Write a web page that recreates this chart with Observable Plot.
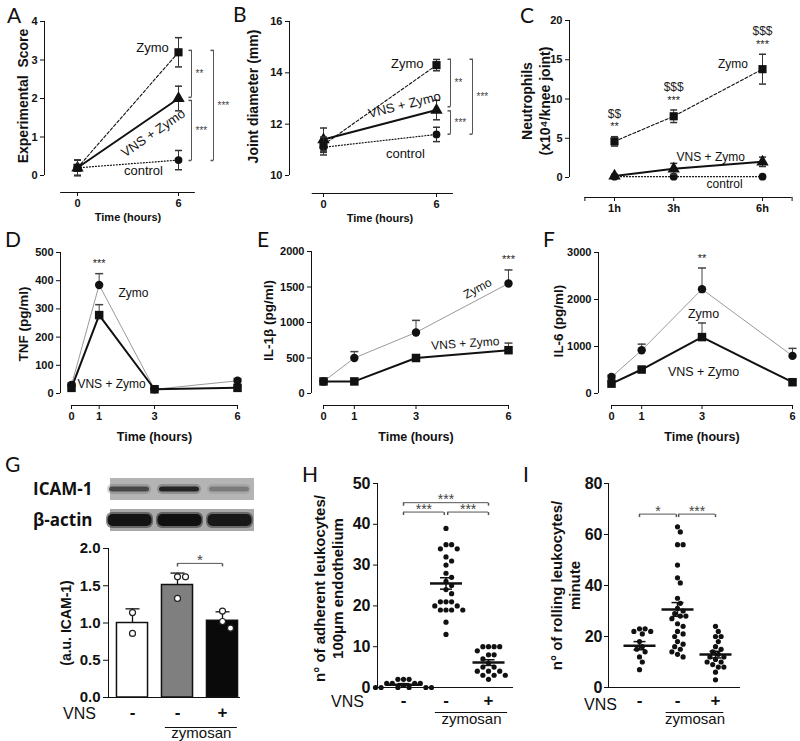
<!DOCTYPE html>
<html><head><meta charset="utf-8">
<script src="https://cdn.jsdelivr.net/npm/d3@7"></script>
<script src="https://cdn.jsdelivr.net/npm/@observablehq/plot@0.6"></script>
<style>
html,body{margin:0;padding:0;background:#fff;overflow:hidden}
#fig{position:relative;width:800px;height:741px;overflow:hidden;background:#fff}
#fig svg{position:absolute;left:0;top:0}
.lt{position:absolute;font-family:Lato,'Open Sans',sans-serif;font-size:21px;line-height:21px;color:#111}
</style></head><body><div id="fig"></div>
<script>
// ======================= DATA =======================
// A: experimental score
const abTime = [0, 6];
const aZymo = [0.2, 3.2];   const aZymoSem = [0.2, 0.38];
const aVns  = [0.2, 2.0];   const aVnsSem  = [0.2, 0.32];
const aCtrl = [0.2, 0.4];   const aCtrlSem = [0.2, 0.25];
const aTicks = [0, 1, 2, 3, 4];
const aSig = [["**", 3.25, 2.03], ["***", 1.95, 0.39], ["***", 3.25, 0.39]];
// B: joint diameter (mm)
const bZymo = [11.2, 14.3];  const bZymoSem = [0.3, 0.22];
const bVns  = [11.4, 12.55]; const bVnsSem  = [0.45, 0.38];
const bCtrl = [11.1, 11.6];  const bCtrlSem = [0.3, 0.28];
const bTicks = [10, 12, 14, 16];
const bSig = [["**", 14.53, 12.68], ["***", 12.52, 11.61], ["***", 14.53, 11.61]];
// C: neutrophils (x10^4 / knee joint)
const cTime = [1, 3, 6];
const cZymo = [4.6, 7.8, 13.8]; const cZymoSem = [0.6, 0.8, 1.9];
const cVns  = [0.2, 1.1, 2.0];  const cVnsSem  = [0.2, 0.7, 0.6];
const cCtrl = [0.1, 0.1, 0.1];  const cCtrlSem = [0.1, 0.1, 0.1];
const cStars = ["**", "***", "***"];
const cDollars = ["$$", "$$$", "$$$"];
const cTicks = [0, 5, 10, 15, 20];
const cTimeTicks = [0, 1, 3, 6, 7];
// D, E, F: cytokines
const defTime = [0, 1, 3, 6];
const dZymo = [30, 385, 15, 45];     const dZymoSem = [8, 40, 4, 8];
const dVns  = [20, 278, 15, 20];     const dVnsSem  = [6, 37, 4, 5];
const dStars = ["", "***", "", ""];
const dTicks = [0, 100, 200, 300, 400, 500];
const eZymo = [170, 500, 860, 1550]; const eZymoSem = [20, 90, 170, 190];
const eVns  = [170, 170, 500, 610];  const eVnsSem  = [15, 15, 40, 100];
const eStars = ["", "", "", "***"];
const eTicks = [0, 500, 1000, 1500, 2000];
const fZymo = [350, 920, 2220, 800]; const fZymoSem = [40, 130, 450, 160];
const fVns  = [210, 510, 1200, 240]; const fVnsSem  = [30, 40, 300, 40];
const fStars = ["", "", "**", ""];
const fTicks = [0, 1000, 2000, 3000];
// G: ICAM-1 western blot
const gGroups = ["control", "zymosan", "VNS + zymosan"];
const gVnsSign = ["-", "-", "+"];
const gMean = [1.0, 1.51, 1.03];
const gSem = [0.19, 0.16, 0.12];
const gPoints = [[0.86, 1.14], [1.33, 1.62, 1.62], [0.93, 1.02, 1.16]];
const gTicks = [0, 0.5, 1, 1.5, 2];
const gBlotRows = ["ICAM-1", "β-actin"];
const gIcam = [0.62, 0.88, 0.3];
const gActin = [0.93, 0.96, 0.88];
const gSig = [["*", 1, 2, 1.8]];
// H: adherent leukocytes
const hGroups = ["control", "zymosan", "VNS + zymosan"];
const hCtrl = [2, 2, 2, 1, 1, 1, 1, 0.5, 0, 0, 0, 0, 0, 0];
const hZymo = [39, 35, 35, 34, 34, 32, 31, 30, 28, 27, 26, 25, 24, 23, 21, 21, 21, 20, 20, 19, 19, 19, 19, 16, 13];
const hVnsZ = [10, 10, 10, 10, 9, 8, 8, 7, 6, 5, 5, 4, 4, 4, 3, 3, 3, 2];
const hMean = [0.7, 25.5, 6.1];
const hSem = [0.25, 1.4, 0.7];
const hTicks = [0, 10, 20, 30, 40, 50];
const hSig = [["***", 0, 2, 45.3], ["***", 0, 0.96, 43], ["***", 1.04, 2, 43]];
// I: rolling leukocytes
const iCtrl = [23, 23, 22, 22, 21, 18, 16, 15, 14, 12, 10, 7];
const iZymo = [63, 61, 56, 56, 48, 43, 41, 35, 33, 31, 30, 29, 28, 28, 27, 25, 24, 22, 21, 20, 18, 17, 16, 15, 14, 13, 12];
const iVnsZ = [24, 22, 20, 20, 18, 16, 15, 14, 13, 12, 12, 11, 10, 10, 9, 8, 8, 6, 3];
const iMean = [16.4, 30.6, 12.9];
const iSem = [1.6, 2.7, 1.3];
const iTicks = [0, 20, 40, 60, 80];
const iSig = [["*", 0, 0.97, 68], ["***", 1.03, 2, 68]];

// ======================= HELPERS =======================
const FONT = "'Liberation Sans', Arial, Helvetica, sans-serif";
const fig = document.getElementById("fig");
const lin = s => d3.scaleLinear(s.domain, s.range);
const inv = (s, px) => lin(s).invert(px);
const sym = fn => ({draw(ctx, size) { const w = Math.sqrt(size / Math.PI); fn(ctx, w); }});
const hCap = sym((c, w) => { c.moveTo(-w, 0); c.lineTo(w, 0); });
const leftTick = sym((c, w) => { c.moveTo(-w, 0); c.lineTo(0, 0); });
const downTick = sym((c, w) => { c.moveTo(0, 0); c.lineTo(0, w); });
const rowsOf = (t, v, e, lab) => t.map((x, k) => ({t: x, v: v[k], e: e[k], lab: lab ? lab[k] : ""}));

function render(cfg, marks, extra = {}) {
  const [l, t, r, b] = cfg.frame;
  const svg = Plot.plot({
    width: 800, height: 741,
    marginLeft: l, marginTop: t, marginRight: 800 - r, marginBottom: 741 - b,
    x: cfg.x, y: cfg.y, ...extra,
    style: {background: "transparent", fontFamily: cfg.font || FONT, fontSize: (cfg.fs || 11) + "px",
            fontWeight: "bold", color: "#111", overflow: "visible"},
    marks
  });
  fig.appendChild(svg);
}
function axisLines(cfg) {
  return [
    Plot.ruleX([inv(cfg.x, cfg.frame[0])], {y1: cfg.y.domain[0], y2: cfg.y.domain[cfg.y.domain.length - 1], stroke: "#111"}),
    Plot.ruleY([inv(cfg.y, cfg.frame[3])], {x1: cfg.xLine[0], x2: cfg.xLine[1], stroke: "#111"})
  ];
}
const ST = {
  zymo: {symbol: "square", r: 4.6, dash: "3,2", width: 1.1},
  vns: {symbol: "triangle", r: 4.6, dash: undefined, width: 2},
  ctrl: {symbol: "circle", r: 3.9, dash: "1,2", width: 1.2}
};
function topLines(rows, st) {
  return Plot.line(rows, {x: "t", y: "v", stroke: "#111", strokeWidth: st.width, strokeDasharray: st.dash});
}
function topPoints(rows, st) {
  return [
    Plot.ruleX(rows, {x: "t", y1: d => d.v - d.e, y2: d => d.v + d.e, stroke: "#333"}),
    Plot.dot(rows, {x: "t", y: d => d.v + d.e, symbol: hCap, r: 3.5, stroke: "#333", fill: "none"}),
    Plot.dot(rows, {x: "t", y: d => d.v - d.e, symbol: hCap, r: 3.5, stroke: "#333", fill: "none"}),
    Plot.dot(rows, {x: "t", y: "v", symbol: st.symbol, r: st.r, fill: "#111", stroke: "none"})
  ];
}
function vBrackets(cfg, sig, offs, at) {
  const xs = lin(cfg.x);
  const list = sig.map(([label, y1, y2], k) => ({label, y1, y2, x: xs.invert(xs(at) + offs[k])}));
  return [
    Plot.ruleX(list, {x: "x", y1: "y1", y2: "y2", stroke: "#555"}),
    Plot.dot(list, {x: "x", y: "y1", symbol: leftTick, r: 3, stroke: "#555", fill: "none"}),
    Plot.dot(list, {x: "x", y: "y2", symbol: leftTick, r: 3, stroke: "#555", fill: "none"}),
    Plot.text(list, {x: "x", y: d => (d.y1 + d.y2) / 2, text: "label", dx: 4, textAnchor: "start",
                     fill: "#444", fontSize: 10, fontWeight: "normal"})
  ];
}
function hBrackets(sig, fs) {
  const list = sig.map(([label, x1, x2, y]) => ({label, x1, x2, y}));
  return [
    Plot.ruleY(list, {x1: "x1", x2: "x2", y: "y", stroke: "#555"}),
    Plot.dot(list, {x: "x1", y: "y", symbol: downTick, r: 3, stroke: "#555", fill: "none"}),
    Plot.dot(list, {x: "x2", y: "y", symbol: downTick, r: 3, stroke: "#555", fill: "none"}),
    Plot.text(list, {x: d => (d.x1 + d.x2) / 2, y: "y", text: "label", dy: -3, fill: "#444", fontSize: fs, fontWeight: "normal"})
  ];
}
function midSeries(zRows, vRows) {
  const errs = rows => [
    Plot.ruleX(rows, {x: "t", y1: "v", y2: d => d.v + d.e, stroke: "#444"}),
    Plot.dot(rows, {x: "t", y: d => d.v + d.e, symbol: hCap, r: 4, stroke: "#444", fill: "none"})
  ];
  return [
    Plot.line(zRows, {x: "t", y: "v", stroke: "#9a9a9a", strokeWidth: 1}),
    Plot.line(vRows, {x: "t", y: "v", stroke: "#111", strokeWidth: 2}),
    ...errs(zRows), ...errs(vRows),
    Plot.dot(zRows, {x: "t", y: "v", symbol: "circle", r: 4.2, fill: "#111"}),
    Plot.dot(vRows, {x: "t", y: "v", symbol: "square", r: 4.8, fill: "#111"}),
    Plot.text(zRows.filter(d => d.lab), {x: "t", y: d => d.v + d.e, text: "lab", dy: -10, fill: "#222", fontSize: 11, fontWeight: "normal"})
  ];
}
function labels(list, fs) {
  return Plot.text(list, {x: "x", y: "y", text: "t", rotate: d => d.r || 0, fontSize: fs, fontWeight: "normal", fill: "#111"});
}
function yTitle(text, dx, dy, fs, lh) {
  return Plot.text([text], {text: d => d, frameAnchor: "left", textAnchor: "middle", dx, dy, rotate: -90,
                            fontSize: fs, fontWeight: "bold", lineHeight: lh || 1.2});
}
function timeTitle(x, dy, fs) {
  return Plot.text(["Time (hours)"], {text: d => d, x, frameAnchor: "bottom", textAnchor: "middle", dy, fontSize: fs, fontWeight: "bold"});
}
function swarm(groups, cfg, D) {
  const xs = lin(cfg.x), ys = lin(cfg.y), out = [];
  groups.forEach((vals, i) => {
    const placed = [];
    [...vals].sort((a, b) => b - a).forEach(v => {
      const py = ys(v);
      let off = 0;
      for (let n = 0; n < 80; n++) {
        const c = n === 0 ? 0 : (n % 2 ? 1 : -1) * Math.ceil(n / 2) * D / 2;
        if (placed.every(p => (p.x - c) ** 2 + (p.y - py) ** 2 >= D * D - 0.01)) { off = c; break; }
      }
      placed.push({x: off, y: py});
      out.push({g: i, v, x: xs.invert(xs(i) + off)});
    });
  });
  return out;
}
function groupFooter(signs, vnsDx, lineX, dys, fs) {
  return [
    Plot.text(signs, {x: (d, i) => i, text: d => d, frameAnchor: "bottom", textAnchor: "middle", dy: dys[0], fontSize: fs + 2, fontWeight: "bold"}),
    Plot.text(["VNS"], {text: d => d, frameAnchor: "bottom-left", textAnchor: "middle", dx: vnsDx, dy: dys[3] || dys[0] + 1, fontSize: fs + 1, fontWeight: "normal"}),
    Plot.ruleY([0], {x1: lineX[0], x2: lineX[1], dy: dys[1], stroke: "#111"}),
    Plot.text(["zymosan"], {text: d => d, x: (lineX[0] + lineX[1]) / 2, frameAnchor: "bottom", textAnchor: "middle", dy: dys[2], fontSize: fs, fontWeight: "normal"})
  ];
}

// ======================= PANEL A =======================
const A = {frame: [44, 21, 230, 192], fs: 11, xLine: [-1, 7],
  x: {domain: [0, 6], range: [77, 178], ticks: abTime, tickFormat: "d", tickSize: 4, tickPadding: 3, label: null, axis: "bottom"},
  y: {domain: [0, 4], range: [175, 21], ticks: aTicks, tickFormat: "d", tickSize: 4, tickPadding: 3, label: null, axis: "left"}};
{
  const z = rowsOf(abTime, aZymo, aZymoSem), v = rowsOf(abTime, aVns, aVnsSem), c = rowsOf(abTime, aCtrl, aCtrlSem);
  render(A, [
    ...axisLines(A),
    topLines(c, ST.ctrl), topLines(z, ST.zymo), topLines(v, ST.vns),
    ...topPoints(c, ST.ctrl), ...topPoints(v, ST.vns), ...topPoints(z, ST.zymo),
    ...vBrackets(A, aSig, [13, 13, 35], 6),
    labels([{x: 4.46, y: 3.32, t: "Zymo"}, {x: 4.5, y: 1.1, t: "VNS + Zymo", r: -34.5}, {x: 3.92, y: 0.13, t: "control"}], 13),
    yTitle("Experimental\u00a0 Score", -22, -11, 14),
    timeTitle(3, 28, 11)
  ]);
}
// ======================= PANEL B =======================
const B = {frame: [289, 21, 490, 193], fs: 11, xLine: [-0.6, 6.9],
  x: {domain: [0, 6], range: [323, 436], ticks: abTime, tickFormat: "d", tickSize: 4, tickPadding: 3, label: null, axis: "bottom"},
  y: {domain: [10, 16], range: [175, 21], ticks: bTicks, tickFormat: "d", tickSize: 4, tickPadding: 3, label: null, axis: "left"}};
{
  const z = rowsOf(abTime, bZymo, bZymoSem), v = rowsOf(abTime, bVns, bVnsSem), c = rowsOf(abTime, bCtrl, bCtrlSem);
  render(B, [
    ...axisLines(B),
    topLines(c, ST.ctrl), topLines(z, ST.zymo), topLines(v, ST.vns),
    ...topPoints(c, ST.ctrl), ...topPoints(v, ST.vns), ...topPoints(z, ST.zymo),
    ...vBrackets(B, bSig, [14, 14, 36], 6),
    labels([{x: 4.45, y: 14.36, t: "Zymo"}, {x: 4.3, y: 12.75, t: "VNS + Zymo", r: -14}, {x: 4.35, y: 10.86, t: "control"}], 13),
    yTitle("Joint diameter (mm)", -37, -11, 14),
    timeTitle(3, 28, 11)
  ]);
}
// ======================= PANEL C =======================
const C = {frame: [569, 20, 795, 197], fs: 11, xLine: [0, 7],
  x: {domain: [1, 6], range: [614, 762], ticks: cTimeTicks, tickFormat: d => cTime.includes(d) ? d + "h" : "", tickSize: 4, tickPadding: 3, label: null, axis: "bottom"},
  y: {domain: [0, 20], range: [177, 20], ticks: cTicks, tickFormat: "d", tickSize: 4, tickPadding: 3, label: null, axis: "left"}};
{
  const z = rowsOf(cTime, cZymo, cZymoSem), v = rowsOf(cTime, cVns, cVnsSem), c = rowsOf(cTime, cCtrl, cCtrlSem);
  render(C, [
    ...axisLines(C),
    topLines(c, ST.ctrl), topLines(z, ST.zymo), topLines(v, ST.vns),
    ...topPoints(c, ST.ctrl), ...topPoints(v, ST.vns), ...topPoints(z, ST.zymo),
    Plot.text(z, {x: "t", y: d => d.v + d.e, text: (d, i) => cStars[i], dy: -10, fontSize: 11, fontWeight: "normal", fill: "#222"}),
    Plot.text(z, {x: "t", y: d => d.v + d.e, text: (d, i) => cDollars[i], dy: -23, fontSize: 12, fontWeight: "normal", fill: "#222"}),
    labels([{x: 5.0, y: 14.5, t: "Zymo"}, {x: 4.25, y: 2.6, t: "VNS + Zymo"}, {x: 4.72, y: -0.8, t: "control"}], 12),
    yTitle("Neutrophils\n(x10⁴/knee joint)", -34, -8, 14, 1.25)
  ]);
}
// ======================= PANEL D =======================
const D = {frame: [60, 252, 240, 405], fs: 11, xLine: [0, 6],
  x: {domain: [0, 6], range: [71, 237], ticks: defTime, tickFormat: "d", tickSize: 4, tickPadding: 3, label: null, axis: "bottom"},
  y: {domain: [0, 500], range: [393, 252], ticks: dTicks, tickFormat: "d", tickSize: 4, tickPadding: 3, label: null, axis: "left"}};
render(D, [
  ...axisLines(D),
  ...midSeries(rowsOf(defTime, dZymo, dZymoSem, dStars), rowsOf(defTime, dVns, dVnsSem)),
  labels([{x: 2.24, y: 355, t: "Zymo"}, {x: 1.45, y: 32, t: "VNS + Zymo"}], 12),
  yTitle("TNF (pg/ml)", -38, -5, 13.5),
  timeTitle(3, 35, 12.5)
]);
// ======================= PANEL E =======================
const E = {frame: [311, 251, 515, 405], fs: 11, xLine: [0, 6],
  x: {domain: [0, 6], range: [323, 508], ticks: defTime, tickFormat: "d", tickSize: 4, tickPadding: 3, label: null, axis: "bottom"},
  y: {domain: [0, 2000], range: [393, 251], ticks: eTicks, tickFormat: "d", tickSize: 4, tickPadding: 3, label: null, axis: "left"}};
render(E, [
  ...axisLines(E),
  ...midSeries(rowsOf(defTime, eZymo, eZymoSem, eStars), rowsOf(defTime, eVns, eVnsSem)),
  labels([{x: 5.0, y: 1479, t: "Zymo", r: -28}, {x: 4.6, y: 704, t: "VNS + Zymo", r: -4}], 12),
  yTitle("IL-1β (pg/ml)", -44, -8, 13.5),
  timeTitle(3, 35, 12.5)
]);
// ======================= PANEL F =======================
const F = {frame: [598, 252, 795, 405], fs: 11, xLine: [0, 6],
  x: {domain: [0, 6], range: [611, 792], ticks: defTime, tickFormat: "d", tickSize: 4, tickPadding: 3, label: null, axis: "bottom"},
  y: {domain: [0, 3000], range: [393, 252], ticks: fTicks, tickFormat: "d", tickSize: 4, tickPadding: 3, label: null, axis: "left"}};
render(F, [
  ...axisLines(F),
  ...midSeries(rowsOf(defTime, fZymo, fZymoSem, fStars), rowsOf(defTime, fVns, fVnsSem)),
  labels([{x: 3.05, y: 1700, t: "Zymo"}, {x: 3.05, y: 447, t: "VNS + Zymo"}], 12.5),
  yTitle("IL-6 (pg/ml)", -41, -8, 13.5),
  timeTitle(3, 35, 12.5)
]);
// ======================= PANEL G: blot =======================
const GB = {frame: [110, 477, 255, 531], fs: 17, font: "'Open Sans', 'Noto Sans', sans-serif",
  x: {domain: [0, 3], range: [104, 254], axis: null},
  y: {domain: gBlotRows, range: [477, 531], paddingInner: 0.3, paddingOuter: 0, axis: "left", tickSize: 0, tickPadding: 18, label: null}};
{
  const icam = gIcam.map((v, lane) => ({lane, v, row: gBlotRows[0]}));
  const actin = gActin.map((v, lane) => ({lane, v, row: gBlotRows[1]}));
  render(GB, [
    Plot.barX([gBlotRows[0]], {y: d => d, x1: 0, x2: 3, insetLeft: 6, fill: "#b4b4b4"}),
    Plot.barX([gBlotRows[1]], {y: d => d, x1: 0, x2: 3, insetLeft: 6, fill: "#a9a9a9"}),
    Plot.barX(icam, {y: "row", x1: d => d.lane + 0.06, x2: d => d.lane + 0.94, insetTop: 6, insetBottom: 6, rx: 5, fill: "#555", fillOpacity: d => d.v * 0.45}),
    Plot.barX(icam, {y: "row", x1: d => d.lane + 0.1, x2: d => d.lane + 0.9, insetTop: 8.5, insetBottom: 8.5, rx: 3, fill: "#151515", fillOpacity: "v"}),
    Plot.barX(actin, {y: "row", x1: d => d.lane + 0.04, x2: d => d.lane + 0.98, insetTop: 3, insetBottom: 3, rx: 6, fill: "#333", fillOpacity: d => d.v * 0.6}),
    Plot.barX(actin, {y: "row", x1: d => d.lane + 0.07, x2: d => d.lane + 0.95, insetTop: 5, insetBottom: 5, rx: 5, fill: "#0d0d0d", fillOpacity: "v"})
  ], {opacity: {type: "identity"}});
}
// ======================= PANEL G: bars =======================
const G = {frame: [108, 548, 240, 697], fs: 15,
  x: {domain: [0, 2], range: [132, 222], axis: null},
  y: {domain: [0, 2], range: [697, 548], ticks: gTicks, tickFormat: ".1f", tickSize: 5, tickPadding: 3, label: null, axis: "left", line: true}};
{
  const G_FILL = ["white", "#7f7f7f", "#0a0a0a"];
  const rows = gGroups.map((g, i) => ({i, v: gMean[i], e: gSem[i]}));
  render(G, [
    Plot.ruleY([0], {stroke: "#111", strokeWidth: 1.2}),
    Plot.ruleX(rows, {x: "i", y1: "v", y2: d => d.v + d.e, stroke: "#111", strokeWidth: 1.3}),
    Plot.dot(rows, {x: "i", y: d => d.v + d.e, symbol: hCap, r: 7, stroke: "#111", strokeWidth: 1.3, fill: "none"}),
    Plot.rect(rows, {x1: d => d.i - 0.345, x2: d => d.i + 0.345, y1: 0, y2: "v", fill: d => G_FILL[d.i], stroke: "#111", strokeWidth: 1.5}),
    Plot.dot(swarm(gPoints, G, 8), {x: "x", y: "v", r: 3, fill: "white", stroke: "#222", strokeWidth: 1.2}),
    ...hBrackets(gSig, 15),
    ...groupFooter(gVnsSign, -29, [0.73, 2.33], [20, 30, 40], 15),
    yTitle("(a.u. ICAM-1)", -43, 0, 14)
  ], {color: {type: "identity"}});
}
// ======================= PANEL H =======================
const H = {frame: [377, 483, 513, 687], fs: 16,
  x: {domain: [0, 2], range: [403, 488], axis: null},
  y: {domain: [0, 50], range: [687, 483], ticks: hTicks, tickFormat: "d", tickSize: 4, tickPadding: 3, label: null, axis: "left", line: true}};
{
  const means = hGroups.map((g, i) => ({i, m: hMean[i], s: hSem[i]}));
  render(H, [
    Plot.ruleY([0], {stroke: "#111", strokeWidth: 1.2}),
    Plot.dot(swarm([hCtrl, hZymo, hVnsZ], H, 5.6), {x: "x", y: "v", r: 2.6, fill: "#111"}),
    Plot.dot(means, {x: "i", y: "m", symbol: hCap, r: 16, stroke: "#111", strokeWidth: 2.5, fill: "none"}),
    Plot.ruleX(means, {x: "i", y1: d => d.m - d.s, y2: d => d.m + d.s, stroke: "#111", strokeWidth: 1.5}),
    Plot.dot(means, {x: "i", y: d => d.m + d.s, symbol: hCap, r: 6, stroke: "#111", strokeWidth: 1.5, fill: "none"}),
    Plot.dot(means, {x: "i", y: d => d.m - d.s, symbol: hCap, r: 6, stroke: "#111", strokeWidth: 1.5, fill: "none"}),
    ...hBrackets(hSig, 14),
    ...groupFooter(gVnsSign, -30, [0.75, 2.45], [18, 25, 36], 15),
    yTitle("n° of adherent leukocytes/\n100μm endothelium", -49, 3, 15, 1.2)
  ]);
}
// ======================= PANEL I =======================
const I = {frame: [608, 483, 740, 687], fs: 16,
  x: {domain: [0, 2], range: [639, 715], axis: null},
  y: {domain: [0, 80], range: [687, 483], ticks: iTicks, tickFormat: "d", tickSize: 4, tickPadding: 2, label: null, axis: "left", line: true}};
{
  const means = hGroups.map((g, i) => ({i, m: iMean[i], s: iSem[i]}));
  render(I, [
    Plot.ruleY([0], {stroke: "#111", strokeWidth: 1.2}),
    Plot.dot(swarm([iCtrl, iZymo, iVnsZ], I, 5.6), {x: "x", y: "v", r: 2.6, fill: "#111"}),
    Plot.dot(means, {x: "i", y: "m", symbol: hCap, r: 16, stroke: "#111", strokeWidth: 2.5, fill: "none"}),
    Plot.ruleX(means, {x: "i", y1: d => d.m - d.s, y2: d => d.m + d.s, stroke: "#111", strokeWidth: 1.5}),
    Plot.dot(means, {x: "i", y: d => d.m + d.s, symbol: hCap, r: 6, stroke: "#111", strokeWidth: 1.5, fill: "none"}),
    Plot.dot(means, {x: "i", y: d => d.m - d.s, symbol: hCap, r: 6, stroke: "#111", strokeWidth: 1.5, fill: "none"}),
    ...hBrackets(iSig, 14),
    ...groupFooter(gVnsSign, -8, [0.7, 2.22], [18, 25, 36, 22], 15),
    yTitle("n° of rolling leukocytes/\nminute", -43, 0, 15, 1.15)
  ]);
}
// ======================= PANEL LETTERS =======================
[["A", 7, 4], ["B", 233, 3], ["C", 520, 4], ["D", 5, 228], ["E", 257, 228], ["F", 543, 228],
 ["G", 5, 453], ["H", 302, 463], ["I", 523, 463]].forEach(([t, x, y]) => {
  const d = document.createElement("div");
  d.className = "lt"; d.textContent = t; d.style.left = x + "px"; d.style.top = y + "px";
  fig.appendChild(d);
});
</script></body></html>
